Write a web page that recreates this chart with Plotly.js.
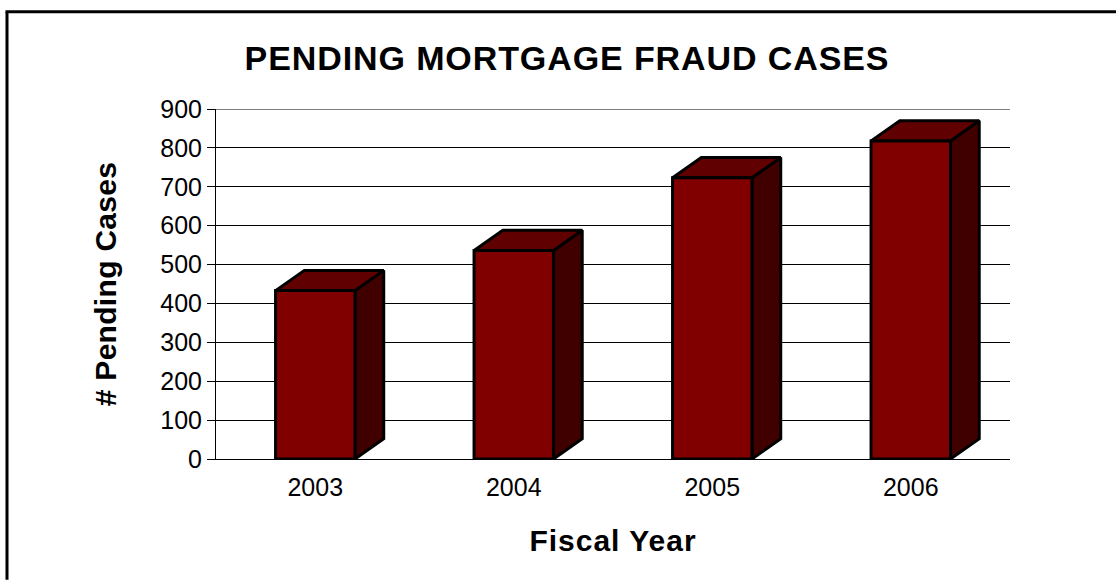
<!DOCTYPE html>
<html>
<head>
<meta charset="utf-8">
<script src="https://cdn.plot.ly/plotly-3.0.1.min.js"></script>
<style>
html,body{margin:0;padding:0;background:#fff}
.gtitle{letter-spacing:.9px}
.xtitle{letter-spacing:1px}
.ytitle{letter-spacing:.3px}
</style>
</head>
<body>
<div id="chart" style="width:1116px;height:580px"></div>
<script>
const years = ['2003', '2004', '2005', '2006'];
const pendingCases = [433, 536, 723, 818];
const yTicks = [0, 100, 200, 300, 400, 500, 600, 700, 800, 900];

// Pseudo-3D extrusion, in axis units
const barWidth = 0.4;
const depthX = 0.145;
const depthY = 52;

const FRONT = '#800000', TOP = '#600000', SIDE = '#400000';
const edge = {color: '#000', width: 3};

function face(xs, ys, fill) {
  return {type: 'scatter', mode: 'lines', x: xs, y: ys, fill: 'toself', fillcolor: fill,
          line: edge, hoverinfo: 'skip', showlegend: false, cliponaxis: false};
}

const traces = [];
years.forEach((year, i) => {
  const l = i - barWidth / 2, r = i + barWidth / 2, v = pendingCases[i];
  traces.push(face([r, r + depthX, r + depthX, r, r], [0, depthY, v + depthY, v, 0], SIDE));
  traces.push(face([l, l + depthX, r + depthX, r, l], [v, v + depthY, v + depthY, v, v], TOP));
  traces.push(face([l, r, r, l, l], [0, 0, v, v, 0], FRONT));
});

const W = 1116, H = 580, m = {l: 216, r: 106, t: 108.5, b: 121};
const px = x => (x - m.l) / (W - m.l - m.r);
const py = y => (H - m.b - y) / (H - m.t - m.b);

const layout = {
  width: W, height: H, margin: m, showlegend: false,
  paper_bgcolor: '#fff', plot_bgcolor: '#fff',
  font: {family: '"Liberation Sans", Arial, sans-serif', color: '#000', size: 25},
  title: {text: '<b>PENDING MORTGAGE FRAUD CASES</b>', font: {size: 34},
          x: 567 / W, xanchor: 'center', y: 1 - 58 / H, yanchor: 'middle'},
  xaxis: {
    type: 'linear', range: [-0.5, 3.5], tickmode: 'array', tickvals: [0, 1, 2, 3], ticktext: years,
    showgrid: false, zeroline: false, showline: true, linecolor: '#000', linewidth: 1,
    ticks: '', tickfont: {size: 25}, ticklabelstandoff: 6,
    title: {text: '<b>Fiscal Year</b>', font: {size: 30}, standoff: 29}
  },
  yaxis: {
    range: [0, 900], tickmode: 'array', tickvals: yTicks,
    showgrid: true, gridcolor: '#000', gridwidth: 1, zeroline: false,
    showline: true, linecolor: '#000', linewidth: 1,
    ticks: 'outside', ticklen: 8, tickcolor: '#000', tickwidth: 1, tickfont: {size: 25},
    title: {text: '<b># Pending Cases</b>', font: {size: 30}, standoff: 34}
  },
  shapes: [
    // Frame rules along the top and left edges of the chart
    {type: 'line', xref: 'paper', yref: 'paper', x0: px(5.5), x1: px(W), y0: py(11), y1: py(11),
     line: {color: '#000', width: 3}, layer: 'below'},
    {type: 'line', xref: 'paper', yref: 'paper', x0: px(7), x1: px(7), y0: py(11), y1: py(H),
     line: {color: '#000', width: 3}, layer: 'below'},
    // Top gridline sits on the range end, where the axis omits it
    {type: 'line', xref: 'paper', yref: 'y', x0: 0, x1: 1,
     y0: yTicks[yTicks.length - 1], y1: yTicks[yTicks.length - 1],
     line: {color: '#000', width: 1}, layer: 'below'}
  ]
};

Plotly.newPlot('chart', traces, layout, {displayModeBar: false, responsive: false});
</script>
</body>
</html>
